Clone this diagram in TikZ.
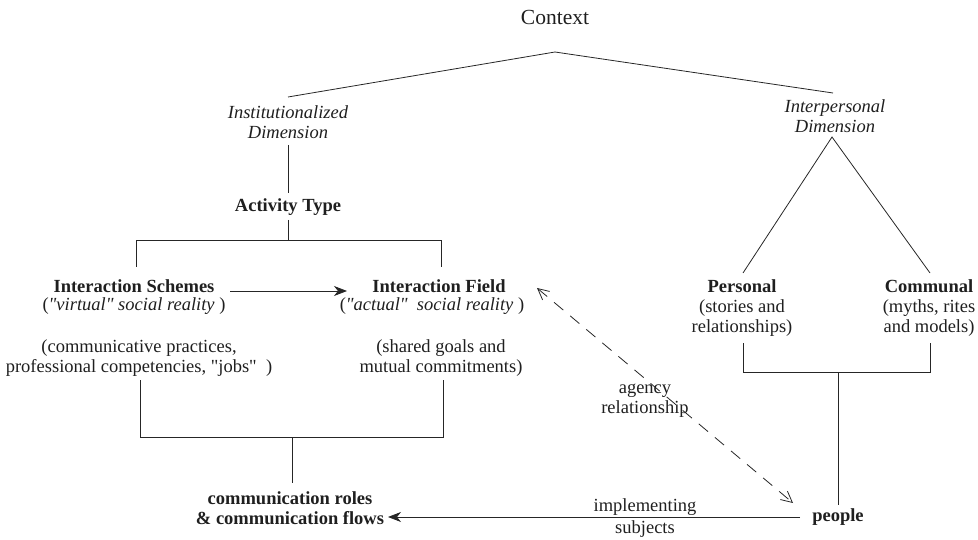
\documentclass[tikz,border=0pt]{standalone}
\usepackage{fontspec}
\setmainfont{Liberation Serif}[Ligatures=TeXOff]
\usetikzlibrary{arrows.meta}
\begin{document}
\begin{tikzpicture}[x=1pt,y=-1pt,
  lbl/.style={font=\fontsize{18.5}{20}\selectfont, align=center, inner sep=0pt, text=black!88},
  bl/.style={font=\fontsize{18.5}{20}\selectfont\bfseries, align=center, inner sep=0pt, text=black!88},
  itl/.style={font=\fontsize{18.5}{20}\selectfont\itshape, align=center, inner sep=0pt, text=black!88},
  ln/.style={line width=0.8pt, draw=black!85},
  solidarrow/.style={ln, -{Stealth[length=13pt,width=10pt,inset=4pt]}},
  dasharrow/.style={ln, dash pattern=on 12pt off 9pt, {Straight Barb[length=11pt,width=11pt]}-{Straight Barb[length=11pt,width=11pt]}}
]
\useasboundingbox (0,0) rectangle (978,540);

% top
\node[lbl, font=\fontsize{21.5}{24}\selectfont] (context) at (555,17) {Context};
\coordinate (apex) at (555,52);
\coordinate (instTop) at (288,97);
\coordinate (interTop) at (833,93);
\draw[ln] (instTop) -- (apex) -- (interTop);

\node[itl] (inst) at (288,122) {Institutionalized\\Dimension};
\node[itl] (inter) at (835,116) {Interpersonal\\Dimension};

% institutional branch
\coordinate (instBot) at (288,145);
\coordinate (actTop) at (288,193);
\draw[ln] (instBot) -- (actTop);
\node[bl] (activity) at (288,207) {Activity Type};
\coordinate (actBot) at (288,220);
\coordinate (actJ) at (288,240);
\coordinate (schJ) at (136,240);
\coordinate (fldJ) at (441,240);
\coordinate (schTop) at (136,267);
\coordinate (fldTop) at (441,267);
\draw[ln] (actBot) -- (actJ);
\draw[ln] (schTop) -- (schJ) -- (fldJ) -- (fldTop);

\node[bl] (schemes) at (134,286) {Interaction Schemes};
\node[lbl] (schemesSub) at (134,306) {(\textit{"virtual" social reality} )};
\node[bl] (field) at (439,286) {Interaction Field};
\node[lbl] (fieldSub) at (432,306) {(\textit{"actual"\ \ social reality} )};
\coordinate (arrS) at (230,291);
\coordinate (arrE) at (347,291);
\draw[solidarrow] (arrS) -- (arrE);

\node[lbl] (schDesc) at (139,358) {(communicative practices,\\professional competencies, "jobs"\ \ )};
\node[lbl] (fldDesc) at (441,358) {(shared goals and\\mutual commitments)};
\coordinate (sdBot) at (140,380);
\coordinate (fdBot) at (443,380);
\coordinate (sdJ) at (140,437);
\coordinate (fdJ) at (443,437);
\coordinate (midJ) at (292,437);
\coordinate (rolesTop) at (292,483);
\draw[ln] (sdBot) -- (sdJ) -- (fdJ) -- (fdBot);
\draw[ln] (midJ) -- (rolesTop);

\node[bl] (roles) at (290,508) {communication roles\\\& communication flows};

% interpersonal branch
\coordinate (triTop) at (832,137);
\coordinate (persTop) at (743,273);
\coordinate (commTop) at (930,273);
\draw[ln] (persTop) -- (triTop) -- (commTop);

\node[lbl] (personal) at (742,308) {\textbf{Personal}\\(stories and\\relationships)};
\node[lbl] (communal) at (929,308) {\textbf{Communal}\\(myths, rites\\and models)};
\coordinate (persBot) at (743,343);
\coordinate (commBot) at (930,343);
\coordinate (persJ) at (743,372);
\coordinate (commJ) at (930,372);
\coordinate (pplJ) at (838,372);
\coordinate (pplTop) at (838,505);
\draw[ln] (persBot) -- (persJ) -- (commJ) -- (commBot);
\draw[ln] (pplJ) -- (pplTop);

\node[bl] (people) at (838,517) {people};

% bottom arrow
\coordinate (botS) at (800,517);
\coordinate (botE) at (388,517);
\draw[solidarrow] (botS) -- (botE);
\node[lbl] (impl) at (645,507) {implementing};
\node[lbl] (subj) at (645,529) {subjects};

% dashed agency arrow
\coordinate (dashA) at (537,288);
\coordinate (dashB) at (793,503);
\draw[dasharrow] (dashA) -- (dashB);
\node[lbl] (agency) at (645,401) {agency\\relationship};
\end{tikzpicture}
\end{document}
